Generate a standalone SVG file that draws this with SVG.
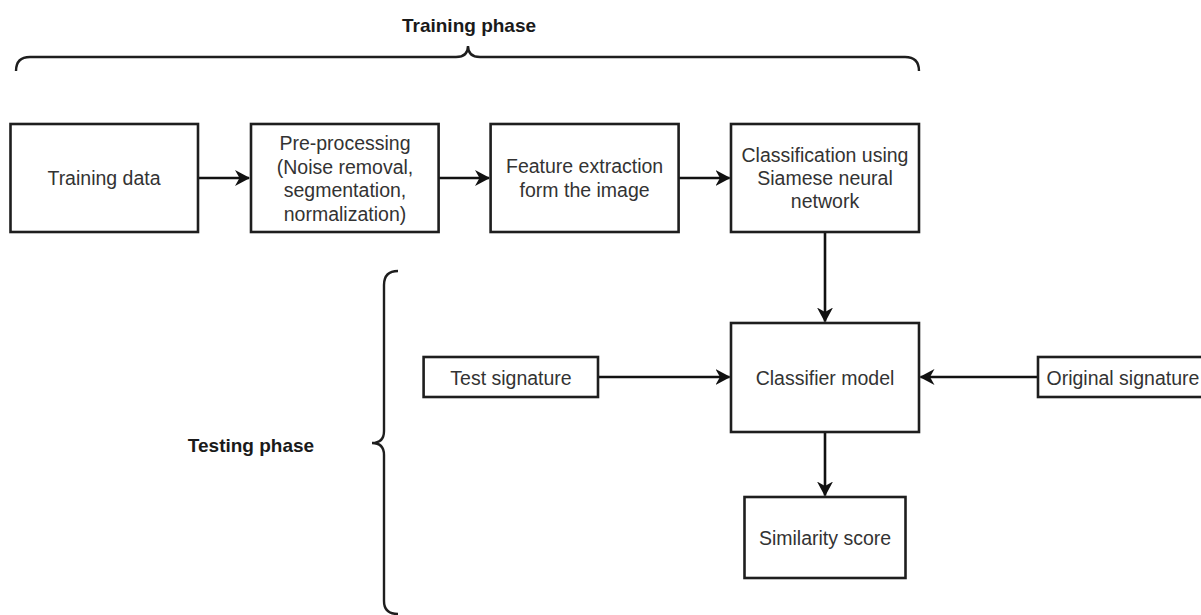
<svg xmlns="http://www.w3.org/2000/svg" width="1201" height="615" viewBox="0 0 1201 615">
<style>
.box{fill:#fff;stroke:#1e1e1e;stroke-width:2.6}
.t{font-family:"Liberation Sans",Arial,sans-serif;font-size:19.5px;fill:#333;text-anchor:middle}
.b{font-family:"Liberation Sans",Arial,sans-serif;font-size:19px;font-weight:bold;fill:#1a1a1a;text-anchor:middle}
.c{fill:none;stroke:#111;stroke-width:2.6}
.br{fill:none;stroke:#1e1e1e;stroke-width:2.4}
</style>
<defs>
<marker id="ah" markerUnits="userSpaceOnUse" markerWidth="18" markerHeight="18" refX="14" refY="8.5" orient="auto">
<path d="M0,0.5 L15,8.5 L0,16.5 L4.5,8.5 Z" fill="#111"/>
</marker>
</defs>
<rect width="1201" height="615" fill="#fff"/>
<g id="training-phase">
<path class="br" d="M16,71 Q16,57 30,57 L456,57 Q468,57 468,46 Q468,57 480,57 L905,57 Q919,57 919,71"/>
<text class="b" x="469" y="32">Training phase</text>
</g>
<g id="testing-phase">
<path class="br" d="M398,271 Q384,271 384,285 L384,431 Q384,443 372,443 Q384,443 384,455 L384,601 Q384,614 398,614"/>
<text class="b" x="251" y="452">Testing phase</text>
</g>
<g id="connectors">
<path class="c" d="M198,178 L249,178" marker-end="url(#ah)"/>
<path class="c" d="M438.6,178 L489,178" marker-end="url(#ah)"/>
<path class="c" d="M678.6,178 L729.5,178" marker-end="url(#ah)"/>
<path class="c" d="M825,232 L825,321.5" marker-end="url(#ah)"/>
<path class="c" d="M598,377 L729.5,377" marker-end="url(#ah)"/>
<path class="c" d="M1038,377 L920.5,377" marker-end="url(#ah)"/>
<path class="c" d="M825,432 L825,495.5" marker-end="url(#ah)"/>
</g>
<g id="training-data">
<rect class="box" x="10.5" y="124" width="187.5" height="108"/>
<text class="t" x="104" y="185">Training data</text>
</g>
<g id="pre-processing">
<rect class="box" x="251" y="124" width="187.6" height="108"/>
<text class="t" x="345" y="150">Pre-processing</text>
<text class="t" x="345" y="174">(Noise removal,</text>
<text class="t" x="345" y="197">segmentation,</text>
<text class="t" x="345" y="221">normalization)</text>
</g>
<g id="feature-extraction">
<rect class="box" x="490.6" y="124" width="188" height="108"/>
<text class="t" x="584.6" y="173">Feature extraction</text>
<text class="t" x="584.6" y="197">form the image</text>
</g>
<g id="classification">
<rect class="box" x="731" y="124" width="188" height="108"/>
<text class="t" x="825" y="162">Classification using</text>
<text class="t" x="825" y="185">Siamese neural</text>
<text class="t" x="825" y="208">network</text>
</g>
<g id="test-signature">
<rect class="box" x="423.6" y="357" width="174.4" height="40"/>
<text class="t" x="511" y="385">Test signature</text>
</g>
<g id="classifier-model">
<rect class="box" x="731" y="323" width="188" height="109"/>
<text class="t" x="825" y="385">Classifier model</text>
</g>
<g id="original-signature">
<rect class="box" x="1038" y="357" width="180" height="40"/>
<text class="t" x="1046.5" y="385" style="text-anchor:start">Original signature</text>
</g>
<g id="similarity-score">
<rect class="box" x="744.5" y="497" width="161" height="81"/>
<text class="t" x="825" y="544.5">Similarity score</text>
</g>
</svg>
